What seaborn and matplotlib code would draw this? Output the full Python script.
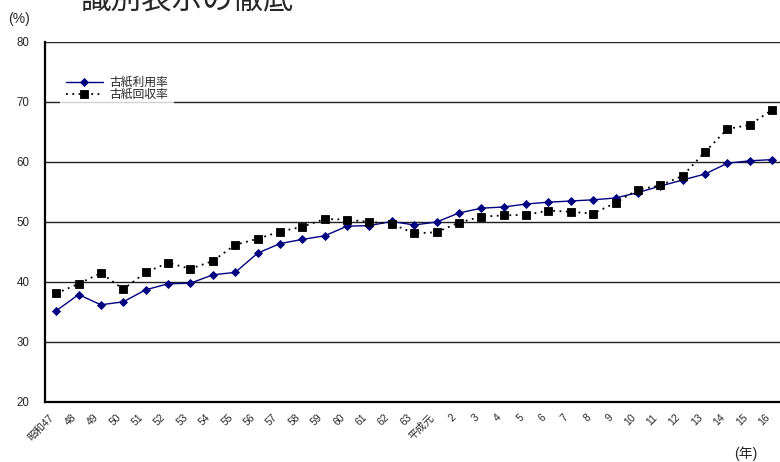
import numpy as np
import pandas as pd
import matplotlib
matplotlib.use("Agg")
import matplotlib.pyplot as plt
import matplotlib.transforms as mtransforms
import seaborn as sns

# 年次ラベル（昭和47年〜平成16年）
years = ["昭和47", "48", "49", "50", "51", "52", "53", "54", "55", "56", "57",
         "58", "59", "60", "61", "62", "63", "平成元", "2", "3", "4", "5", "6",
         "7", "8", "9", "10", "11", "12", "13", "14", "15", "16"]

# 古紙利用率 (%)
usage_rate = [35.2, 37.9, 36.2, 36.7, 38.7, 39.7, 39.8, 41.2, 41.6, 44.8, 46.4,
              47.1, 47.7, 49.3, 49.4, 50.1, 49.5, 50.0, 51.5, 52.3, 52.5, 53.0,
              53.3, 53.5, 53.7, 54.0, 54.9, 56.0, 57.0, 58.0, 59.8, 60.2, 60.4]

# 古紙回収率 (%)
recovery_rate = [38.1, 39.7, 41.5, 38.8, 41.6, 43.2, 42.2, 43.5, 46.2, 47.2, 48.4,
                 49.2, 50.5, 50.4, 50.0, 49.7, 48.1, 48.3, 49.9, 50.9, 51.1, 51.2,
                 51.9, 51.7, 51.4, 53.2, 55.4, 56.1, 57.7, 61.7, 65.5, 66.2, 68.7]

series_names = ["古紙利用率", "古紙回収率"]

df = pd.DataFrame({"pos": np.arange(len(years)), "year": years,
                   "古紙利用率": usage_rate, "古紙回収率": recovery_rate})

sns.set_style("white")
plt.rcParams["font.family"] = ["Liberation Sans", "Noto Sans CJK JP"]

W, H = 780, 462
fig = plt.figure(figsize=(W / 100, H / 100), dpi=100)
ax = fig.add_axes([45 / W, 60 / H, (W - 45) / W, 360 / H])

sns.lineplot(data=df, x="pos", y="古紙利用率", ax=ax, color="#000080",
             lw=1.0, marker="D", markersize=4.5, markeredgecolor="#000080",
             markeredgewidth=0.6, label=series_names[0], zorder=3)
sns.lineplot(data=df, x="pos", y="古紙回収率", ax=ax, color="black",
             lw=1.3, dashes=(1, 2.5), marker="s", markersize=5.5,
             markeredgecolor="black", markeredgewidth=0.6,
             label=series_names[1], zorder=3)

# 軸範囲・目盛
ax.set_ylim(20, 80)
ax.set_yticks(np.arange(20, 81, 10))
ax.set_xlim(-0.5, (W - 45) / 22.375 - 0.5)
ax.set_xticks(df["pos"])
ax.set_xticklabels(years, rotation=45, ha="right", va="center",
                   rotation_mode="anchor", fontsize=7.5)
ax.set_xticks(np.arange(0.5, len(years) - 1, 1), minor=True)
ax.tick_params(axis="x", which="major", length=0, pad=10)
ax.tick_params(axis="x", which="minor", length=3, direction="in",
               width=1, color="black")
ax.tick_params(axis="y", length=0, pad=11, labelsize=8.3)
shift = mtransforms.ScaledTranslation(-4 / 100, 0, fig.dpi_scale_trans)
for lbl in ax.get_xticklabels():
    lbl.set_transform(lbl.get_transform() + shift)

ax.set_xlabel("")
ax.set_ylabel("")

# 横グリッド線
for yv in range(30, 81, 10):
    ax.axhline(yv, color="#222222", lw=1.0, zorder=1)

for side in ["top", "right"]:
    ax.spines[side].set_visible(False)
for side in ["left", "bottom"]:
    ax.spines[side].set_color("black")
    ax.spines[side].set_linewidth(1.6)

# 凡例（白地でグリッド線を隠す）
leg = ax.legend(loc="upper left", bbox_to_anchor=(60 / W, 1 - 71 / H),
                bbox_transform=fig.transFigure, frameon=True, fontsize=8.5,
                handlelength=3.1, handletextpad=0.6, labelspacing=0.0,
                borderpad=0.5, borderaxespad=0, numpoints=1)
leg.get_frame().set_facecolor("white")
leg.get_frame().set_edgecolor("none")
leg.get_frame().set_boxstyle("square", pad=0)
leg.set_zorder(5)

# 単位・見出し
fig.text(19 / W, 1 - 19 / H, "(%)", ha="center", va="center", fontsize=10)
fig.text(746 / W, 1 - 454 / H, "(年)", ha="center", va="center", fontsize=10)
fig.text(188 / W, 1 - 8 / H, "識別表示の徹底", ha="center", va="baseline",
         fontsize=22, family=["Noto Sans CJK JP"])

fig.savefig("out.png", dpi=100)
